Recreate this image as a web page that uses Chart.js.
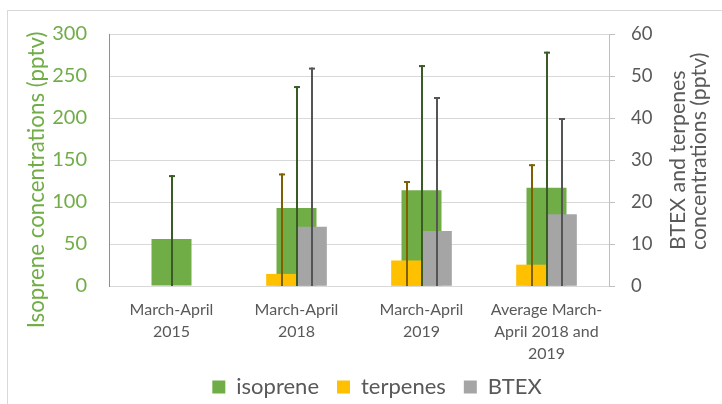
<!DOCTYPE html>
<html>
<head>
<meta charset="utf-8">
<script src="https://cdn.jsdelivr.net/npm/chart.js@4/dist/chart.umd.min.js"></script>
<style>
html,body{margin:0;padding:0;background:#fff;overflow:hidden}
#wrap{width:722px;height:404px;position:relative}
</style>
</head>
<body>
<div id="wrap"><canvas id="c" width="722" height="404" style="width:722px;height:404px"></canvas></div>
<script>
// ---- data ----
const categories = [
  ['March-April', '2015'],
  ['March-April', '2018'],
  ['March-April', '2019'],
  ['Average March-', 'April 2018 and', '2019']
];
const isoprene    = [56, 93, 114, 117];
const isopreneErr = [76, 145, 149, 162];
const terpenes    = [null, 2.8, 6, 5];
const terpenesErr = [null, 24, 19, 24];
const btex        = [null, 14, 13, 17];
const btexErr     = [null, 38, 32, 23];
const leftTicks  = {min: 0, max: 300, step: 50};
const rightTicks = {min: 0, max: 60, step: 10};
const leftTitle  = 'Isoprene concentrations (pptv)';
const rightTitle = ['BTEX and terpenes', 'concentrations (pptv)'];

const GREEN = '#70AD47', GREY_TXT = '#595959';

const framePlugin = {
  id: 'frame',
  afterLayout(chart) {
    // let the three-line category label extend below the axis box
    chart.scales.x.bottom += 14;
  },
  beforeDraw(chart) {
    const ctx = chart.ctx;
    ctx.save();
    ctx.fillStyle = '#fff';
    ctx.fillRect(0, 0, chart.width, chart.height);
    ctx.strokeStyle = '#D9D9D9';
    ctx.lineWidth = 1;
    ctx.strokeRect(7.5, 10.5, 800, 500);
    ctx.restore();
  }
};

const errorBarPlugin = {
  id: 'errorBars',
  afterDatasetsDraw(chart) {
    const ctx = chart.ctx;
    chart.data.datasets.forEach((ds, i) => {
      const meta = chart.getDatasetMeta(i);
      const ys = chart.scales[ds.yAxisID];
      meta.data.forEach((bar, j) => {
        const v = ds.data[j], e = ds.errors[j];
        if (v == null || e == null) return;
        const yTop = ys.getPixelForValue(v + e);
        const yBot = ys.getPixelForValue(Math.max(ys.min, v - e));
        const x = Math.round(bar.x);
        ctx.save();
        ctx.strokeStyle = ds.errorColor;
        ctx.lineWidth = 2;
        ctx.beginPath();
        ctx.moveTo(x, yBot);
        ctx.lineTo(x, yTop);
        ctx.stroke();
        ctx.beginPath();
        ctx.moveTo(x - 3, yTop + 1);
        ctx.lineTo(x + 3, yTop + 1);
        ctx.stroke();
        ctx.restore();
      });
    });
  }
};

const titlesPlugin = {
  id: 'axisTitles',
  afterDraw(chart) {
    const ctx = chart.ctx;
    ctx.save();
    ctx.textBaseline = 'middle';
    // left title
    ctx.fillStyle = GREEN;
    ctx.font = '22.3px Lato';
    ctx.textAlign = 'center';
    ctx.save();
    ctx.translate(37, 180);
    ctx.rotate(-Math.PI / 2);
    ctx.fillText(leftTitle, 0, 0);
    ctx.restore();
    // right title (two lines, start-aligned)
    ctx.fillStyle = GREY_TXT;
    ctx.font = '21.3px Lato';
    ctx.textAlign = 'left';
    const xs = [678, 699];
    rightTitle.forEach((t, k) => {
      ctx.save();
      ctx.translate(xs[k], 250);
      ctx.rotate(-Math.PI / 2);
      ctx.fillText(t, 0, 0);
      ctx.restore();
    });
    ctx.restore();
  }
};

new Chart(document.getElementById('c'), {
  type: 'bar',
  data: {
    labels: categories,
    datasets: [
      {
        label: 'isoprene', data: isoprene, errors: isopreneErr,
        backgroundColor: '#70AD47', errorColor: '#3A5A26',
        xAxisID: 'x', yAxisID: 'y', order: 1,
        grouped: false, categoryPercentage: 0.32, barPercentage: 1
      },
      {
        label: 'terpenes', data: terpenes, errors: terpenesErr,
        backgroundColor: '#FFC000', errorColor: '#7F6000',
        xAxisID: 'x2', yAxisID: 'y2', order: 0,
        barThickness: 30
      },
      {
        label: 'BTEX', data: btex, errors: btexErr,
        backgroundColor: '#A5A5A5', errorColor: '#555555',
        xAxisID: 'x2', yAxisID: 'y2', order: 0,
        barThickness: 30
      }
    ]
  },
  options: {
    responsive: false,
    animation: false,
    devicePixelRatio: 1,
    layout: {padding: {top: 29, left: 32, right: 0, bottom: 0}},
    font: {family: 'Lato'},
    plugins: {
      legend: {
        position: 'bottom',
        maxHeight: 46,
        labels: {
          boxWidth: 13, boxHeight: 13, padding: 18,
          color: GREY_TXT,
          font: {family: 'Lato', size: 22},
          sort: (a, b) => a.datasetIndex - b.datasetIndex
        }
      },
      tooltip: {enabled: false}
    },
    scales: {
      x: {
        type: 'category',
        offset: true,
        grid: {display: false, drawTicks: false},
        border: {display: false},
        ticks: {
          color: GREY_TXT, autoSkip: false, maxRotation: 0, padding: 13,
          font: {family: 'Lato', size: 16, lineHeight: 1.36}
        },
        afterFit(s) { s.height = 72; }
      },
      x2: {
        type: 'category',
        offset: true,
        display: false,
        grid: {display: false, drawTicks: false}
      },
      y: {
        position: 'left',
        min: leftTicks.min, max: leftTicks.max,
        ticks: {stepSize: leftTicks.step, color: GREEN, padding: 22, font: {family: 'Lato', size: 20}},
        grid: {color: '#D9D9D9', drawTicks: false},
        border: {color: GREEN, width: 1},
        afterFit(s) { s.width = 77; }
      },
      y2: {
        position: 'right',
        min: rightTicks.min, max: rightTicks.max,
        ticks: {stepSize: rightTicks.step, color: GREY_TXT, padding: 16, font: {family: 'Lato', size: 18.5}},
        grid: {drawOnChartArea: false, drawTicks: true, tickLength: 6, color: '#BFBFBF'},
        border: {color: '#BFBFBF', width: 1},
        afterFit(s) { s.width = 113; }
      }
    }
  },
  plugins: [framePlugin, errorBarPlugin, titlesPlugin]
});
</script>
</body>
</html>
